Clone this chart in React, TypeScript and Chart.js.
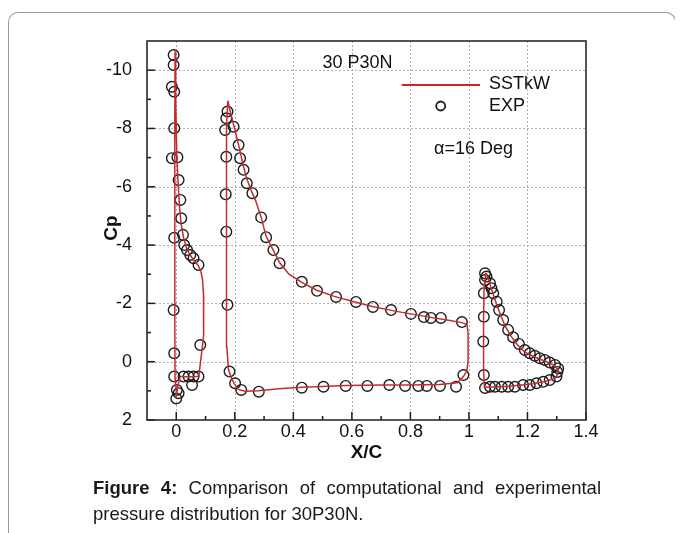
import React, { useEffect, useRef } from "react";
import { Chart, registerables } from "chart.js";
Chart.register(...registerables);

// ---- SSTkW computed Cp (three elements: slat, main, flap) ----
const slatLineX = [-0.004, -0.002, 0.002, 0.006, 0.011, 0.017, 0.025, 0.035, 0.048, 0.062, 0.075, 0.084, 0.09, 0.093, 0.094, 0.093, 0.089, 0.083, 0.077, 0.055, 0.03, 0.014, 0.006, 0.001, -0.004, -0.005, -0.005, -0.005, -0.004];
const slatLineCp = [-10.65, -9.0, -7.0, -6.2, -5.3, -4.7, -4.25, -3.9, -3.65, -3.45, -3.3, -3.1, -2.8, -2.3, -1.5, -0.9, -0.5, 0.0, 0.5, 0.52, 0.52, 0.5, 0.8, 1.1, 0.6, -1.5, -5.0, -8.5, -10.65];

const mainLineX = [0.176, 0.184, 0.194, 0.204, 0.215, 0.227, 0.24, 0.255, 0.272, 0.29, 0.307, 0.33, 0.353, 0.385, 0.429, 0.48, 0.54, 0.61, 0.67, 0.735, 0.8, 0.87, 0.93, 0.975, 0.993, 0.997, 0.997, 0.993, 0.982, 0.96, 0.9, 0.8, 0.7, 0.58, 0.5, 0.43, 0.35, 0.28, 0.235, 0.212, 0.198, 0.186, 0.178, 0.173, 0.171, 0.171, 0.173, 0.176];
const mainLineCp = [-8.95, -8.6, -8.2, -7.8, -7.35, -6.8, -6.3, -5.9, -5.5, -4.95, -4.3, -3.85, -3.4, -3.0, -2.72, -2.45, -2.24, -2.05, -1.89, -1.76, -1.64, -1.52, -1.42, -1.34, -1.28, -1.0, 0.0, 0.3, 0.5, 0.72, 0.78, 0.8, 0.8, 0.82, 0.85, 0.88, 0.93, 1.0, 1.01, 0.95, 0.75, 0.5, 0.25, -0.5, -3.0, -6.0, -8.0, -8.95];

const flapLineX = [1.058, 1.066, 1.075, 1.085, 1.097, 1.11, 1.125, 1.142, 1.16, 1.18, 1.2, 1.225, 1.25, 1.275, 1.295, 1.305, 1.3, 1.28, 1.25, 1.22, 1.18, 1.14, 1.1, 1.07, 1.053, 1.05, 1.05, 1.052, 1.058];
const flapLineCp = [-3.05, -2.85, -2.55, -2.25, -1.9, -1.55, -1.2, -0.9, -0.65, -0.42, -0.28, -0.16, -0.06, 0.04, 0.15, 0.3, 0.5, 0.62, 0.7, 0.76, 0.8, 0.84, 0.86, 0.88, 0.88, 0.3, -1.5, -2.6, -3.05];

// ---- Experimental Cp ----
const expSlatX = [-0.009, -0.009, -0.015, -0.007, -0.007, -0.015, 0.004, 0.008, 0.014, 0.017, -0.007, 0.023, 0.027, 0.037, 0.048, 0.059, 0.076, -0.009, 0.082, -0.007, -0.007, 0.025, 0.042, 0.059, 0.076, 0.002, 0.008, 0.0, 0.054];
const expSlatCp = [-10.52, -10.18, -9.43, -9.26, -8.01, -6.98, -7.01, -6.23, -5.55, -4.92, -4.25, -4.35, -4.0, -3.83, -3.66, -3.55, -3.32, -1.77, -0.57, -0.29, 0.51, 0.51, 0.51, 0.51, 0.51, 0.97, 1.08, 1.26, 0.8];

const expMainX = [0.175, 0.171, 0.196, 0.167, 0.213, 0.171, 0.218, 0.23, 0.241, 0.26, 0.169, 0.29, 0.307, 0.171, 0.332, 0.353, 0.175, 0.429, 0.481, 0.546, 0.614, 0.672, 0.734, 0.802, 0.846, 0.87, 0.904, 0.976, 0.182, 0.201, 0.222, 0.282, 0.429, 0.503, 0.579, 0.653, 0.728, 0.782, 0.827, 0.856, 0.901, 0.956, 0.981];
const expMainCp = [-8.58, -8.35, -8.06, -7.95, -7.43, -7.03, -6.98, -6.58, -6.12, -5.78, -5.74, -4.95, -4.27, -4.46, -3.83, -3.38, -1.95, -2.74, -2.43, -2.22, -2.05, -1.88, -1.77, -1.64, -1.53, -1.5, -1.5, -1.36, 0.34, 0.74, 0.97, 1.03, 0.89, 0.86, 0.83, 0.83, 0.8, 0.83, 0.83, 0.83, 0.83, 0.86, 0.46];

const expFlapX = [1.055, 1.06, 1.072, 1.077, 1.083, 1.095, 1.103, 1.117, 1.134, 1.151, 1.171, 1.191, 1.208, 1.225, 1.242, 1.259, 1.276, 1.294, 1.305, 1.302, 1.299, 1.276, 1.254, 1.231, 1.208, 1.185, 1.157, 1.134, 1.112, 1.089, 1.072, 1.055, 1.051, 1.049, 1.051, 1.051, 1.055];
const expFlapCp = [-3.03, -2.92, -2.69, -2.52, -2.35, -2.06, -1.77, -1.43, -1.09, -0.84, -0.61, -0.4, -0.29, -0.2, -0.12, -0.06, 0.03, 0.11, 0.23, 0.35, 0.51, 0.63, 0.69, 0.74, 0.8, 0.8, 0.86, 0.86, 0.86, 0.86, 0.86, 0.9, 0.46, -0.69, -1.54, -2.35, -2.8];

// ---- Axes ----
const xMajorTicks = [0, 0.2, 0.4, 0.6, 0.8, 1, 1.2, 1.4];
const xMinorTicks = [0.1, 0.3, 0.5, 0.7, 0.9, 1.1, 1.3];
const yMajorTicks = [-10, -8, -6, -4, -2, 0, 2];
const yMinorTicks = [-9, -7, -5, -3, -1, 1];

const FONT = '"Liberation Sans", Arial, Helvetica, sans-serif';
const RED = "#c42c2c";
const INK = "#1c1c1c";

function zip(xs: number[], ys: number[]) {
  return xs.map((x, i) => ({ x, y: ys[i] }));
}

const gap = { x: null as any, y: null as any };
const lineData = [
  ...zip(slatLineX, slatLineCp),
  gap,
  ...zip(mainLineX, mainLineCp),
  gap,
  ...zip(flapLineX, flapLineCp),
];
const expData = [
  ...zip(expSlatX, expSlatCp),
  ...zip(expMainX, expMainCp),
  ...zip(expFlapX, expFlapCp),
];

const framePlugin = {
  id: "framePlugin",
  beforeDatasetsDraw(chart: any) {
    const { ctx, chartArea: a } = chart;
    const xs = chart.scales.x;
    const ys = chart.scales.y;
    ctx.save();
    // dotted grid
    ctx.strokeStyle = "#b0b0b0";
    ctx.lineWidth = 1;
    ctx.setLineDash([2, 2]);
    for (const v of xMajorTicks) {
      const px = Math.round(xs.getPixelForValue(v)) + 0.5;
      if (px <= a.left + 2 || px >= a.right - 2) continue;
      ctx.beginPath();
      ctx.moveTo(px, a.top);
      ctx.lineTo(px, a.bottom);
      ctx.stroke();
    }
    for (const v of yMajorTicks) {
      const py = Math.round(ys.getPixelForValue(v)) + 0.5;
      if (py <= a.top + 2 || py >= a.bottom - 2) continue;
      ctx.beginPath();
      ctx.moveTo(a.left, py);
      ctx.lineTo(a.right, py);
      ctx.stroke();
    }
    ctx.setLineDash([]);
    // inward ticks
    ctx.strokeStyle = INK;
    ctx.lineWidth = 1.5;
    const tick = (x1: number, y1: number, x2: number, y2: number) => {
      ctx.beginPath();
      ctx.moveTo(x1, y1);
      ctx.lineTo(x2, y2);
      ctx.stroke();
    };
    for (const v of xMajorTicks) {
      const px = xs.getPixelForValue(v);
      tick(px, a.bottom, px, a.bottom - 8);
    }
    for (const v of xMinorTicks) {
      const px = xs.getPixelForValue(v);
      tick(px, a.bottom, px, a.bottom - 4);
    }
    for (const v of yMajorTicks) {
      const py = ys.getPixelForValue(v);
      tick(a.left, py, a.left + 8, py);
    }
    for (const v of yMinorTicks) {
      const py = ys.getPixelForValue(v);
      tick(a.left, py, a.left + 4, py);
    }
    // box
    ctx.strokeStyle = "#2a2a2a";
    ctx.lineWidth = 1.6;
    ctx.strokeRect(a.left, a.top, a.right - a.left, a.bottom - a.top);
    ctx.restore();
  },
  afterDraw(chart: any) {
    const { ctx, chartArea: a } = chart;
    ctx.save();
    ctx.fillStyle = "#111";
    ctx.textBaseline = "middle";
    ctx.font = `18px ${FONT}`;
    ctx.textAlign = "center";
    ctx.fillText("30 P30N", 349.5, 55.5);
    // legend
    ctx.strokeStyle = RED;
    ctx.lineWidth = 2;
    ctx.beginPath();
    ctx.moveTo(393.7, 77);
    ctx.lineTo(472, 77);
    ctx.stroke();
    ctx.strokeStyle = INK;
    ctx.lineWidth = 1.8;
    ctx.beginPath();
    ctx.arc(432.7, 98, 4.5, 0, Math.PI * 2);
    ctx.stroke();
    ctx.textAlign = "left";
    ctx.fillText("SSTkW", 481, 76);
    ctx.fillText("EXP", 481, 98);
    ctx.fillText("\u03b1=16 Deg", 426, 141);
    // axis titles
    ctx.font = `bold 19px ${FONT}`;
    ctx.textAlign = "center";
    ctx.fillText("X/C", (a.left + a.right) / 2, 445);
    ctx.save();
    ctx.translate(104, 220);
    ctx.rotate(-Math.PI / 2);
    ctx.fillText("Cp", 0, 0);
    ctx.restore();
    ctx.restore();
  },
};

export default function App() {
  const ref = useRef<HTMLCanvasElement | null>(null);
  useEffect(() => {
    if (!ref.current) return;
    const chart = new Chart(ref.current, {
      type: "scatter",
      data: {
        datasets: [
          {
            label: "SSTkW",
            data: lineData,
            showLine: true,
            spanGaps: false,
            borderColor: RED,
            borderWidth: 1.5,
            pointRadius: 0,
            pointHoverRadius: 0,
            tension: 0,
            fill: false,
          },
          {
            label: "EXP",
            data: expData,
            showLine: false,
            pointStyle: "circle",
            pointRadius: 5.3,
            pointBorderWidth: 1.4,
            pointBorderColor: INK,
            pointBackgroundColor: "rgba(0,0,0,0)",
            borderColor: INK,
            backgroundColor: "rgba(0,0,0,0)",
          },
        ],
      },
      options: {
        responsive: false,
        animation: false,
        events: [],
        layout: { padding: { left: 0, top: 33, right: 90, bottom: 0 } },
        plugins: { legend: { display: false }, tooltip: { enabled: false } },
        scales: {
          x: {
            type: "linear",
            min: -0.1,
            max: 1.4,
            grid: { display: false },
            border: { display: false },
            afterBuildTicks: (s: any) => {
              s.ticks = xMajorTicks.map((v) => ({ value: v }));
            },
            afterFit: (s: any) => {
              s.height = 58;
            },
            ticks: {
              color: "#111",
              font: { family: FONT, size: 18 },
              padding: -7,
              maxRotation: 0,
              autoSkip: false,
              callback: (v: any) => String(Math.round(Number(v) * 10) / 10),
            },
          },
          y: {
            type: "linear",
            reverse: true,
            min: -11,
            max: 2,
            grid: { display: false },
            border: { display: false },
            afterBuildTicks: (s: any) => {
              s.ticks = yMajorTicks.map((v) => ({ value: v }));
            },
            afterFit: (s: any) => {
              s.width = 139;
            },
            ticks: {
              color: "#111",
              font: { family: FONT, size: 18 },
              padding: 7,
              autoSkip: false,
              callback: (v: any) => String(v),
            },
          },
        },
      },
      plugins: [framePlugin],
    });
    return () => chart.destroy();
  }, []);

  return (
    <div style={{ position: "relative", width: 668, height: 525, overflow: "hidden" }}>
      <div
        style={{
          position: "absolute",
          left: 0,
          top: 4,
          width: 668,
          height: 460,
          boxSizing: "border-box",
          borderTop: "1px solid #9a9a9a",
          borderLeft: "1px solid #9a9a9a",
          borderRight: "1px solid #9a9a9a",
          borderRadius: "10px 10px 0 0",
        }}
      />
      <div style={{ position: "absolute", left: 0, top: 463, width: 1, height: 70, background: "#9a9a9a" }} />
      <canvas
        ref={ref}
        width={668}
        height={470}
        style={{ position: "absolute", left: 0, top: 0, width: 668, height: 470 }}
      />
      <div
        style={{
          position: "absolute",
          left: 85,
          top: 466.6,
          width: 508,
          fontFamily: FONT,
          fontSize: 18.5,
          lineHeight: "26px",
          textAlign: "justify",
          color: "#1a1a1a",
        }}
      >
        <b>Figure 4:</b> Comparison of computational and experimental pressure distribution for 30P30N.
      </div>
    </div>
  );
}
